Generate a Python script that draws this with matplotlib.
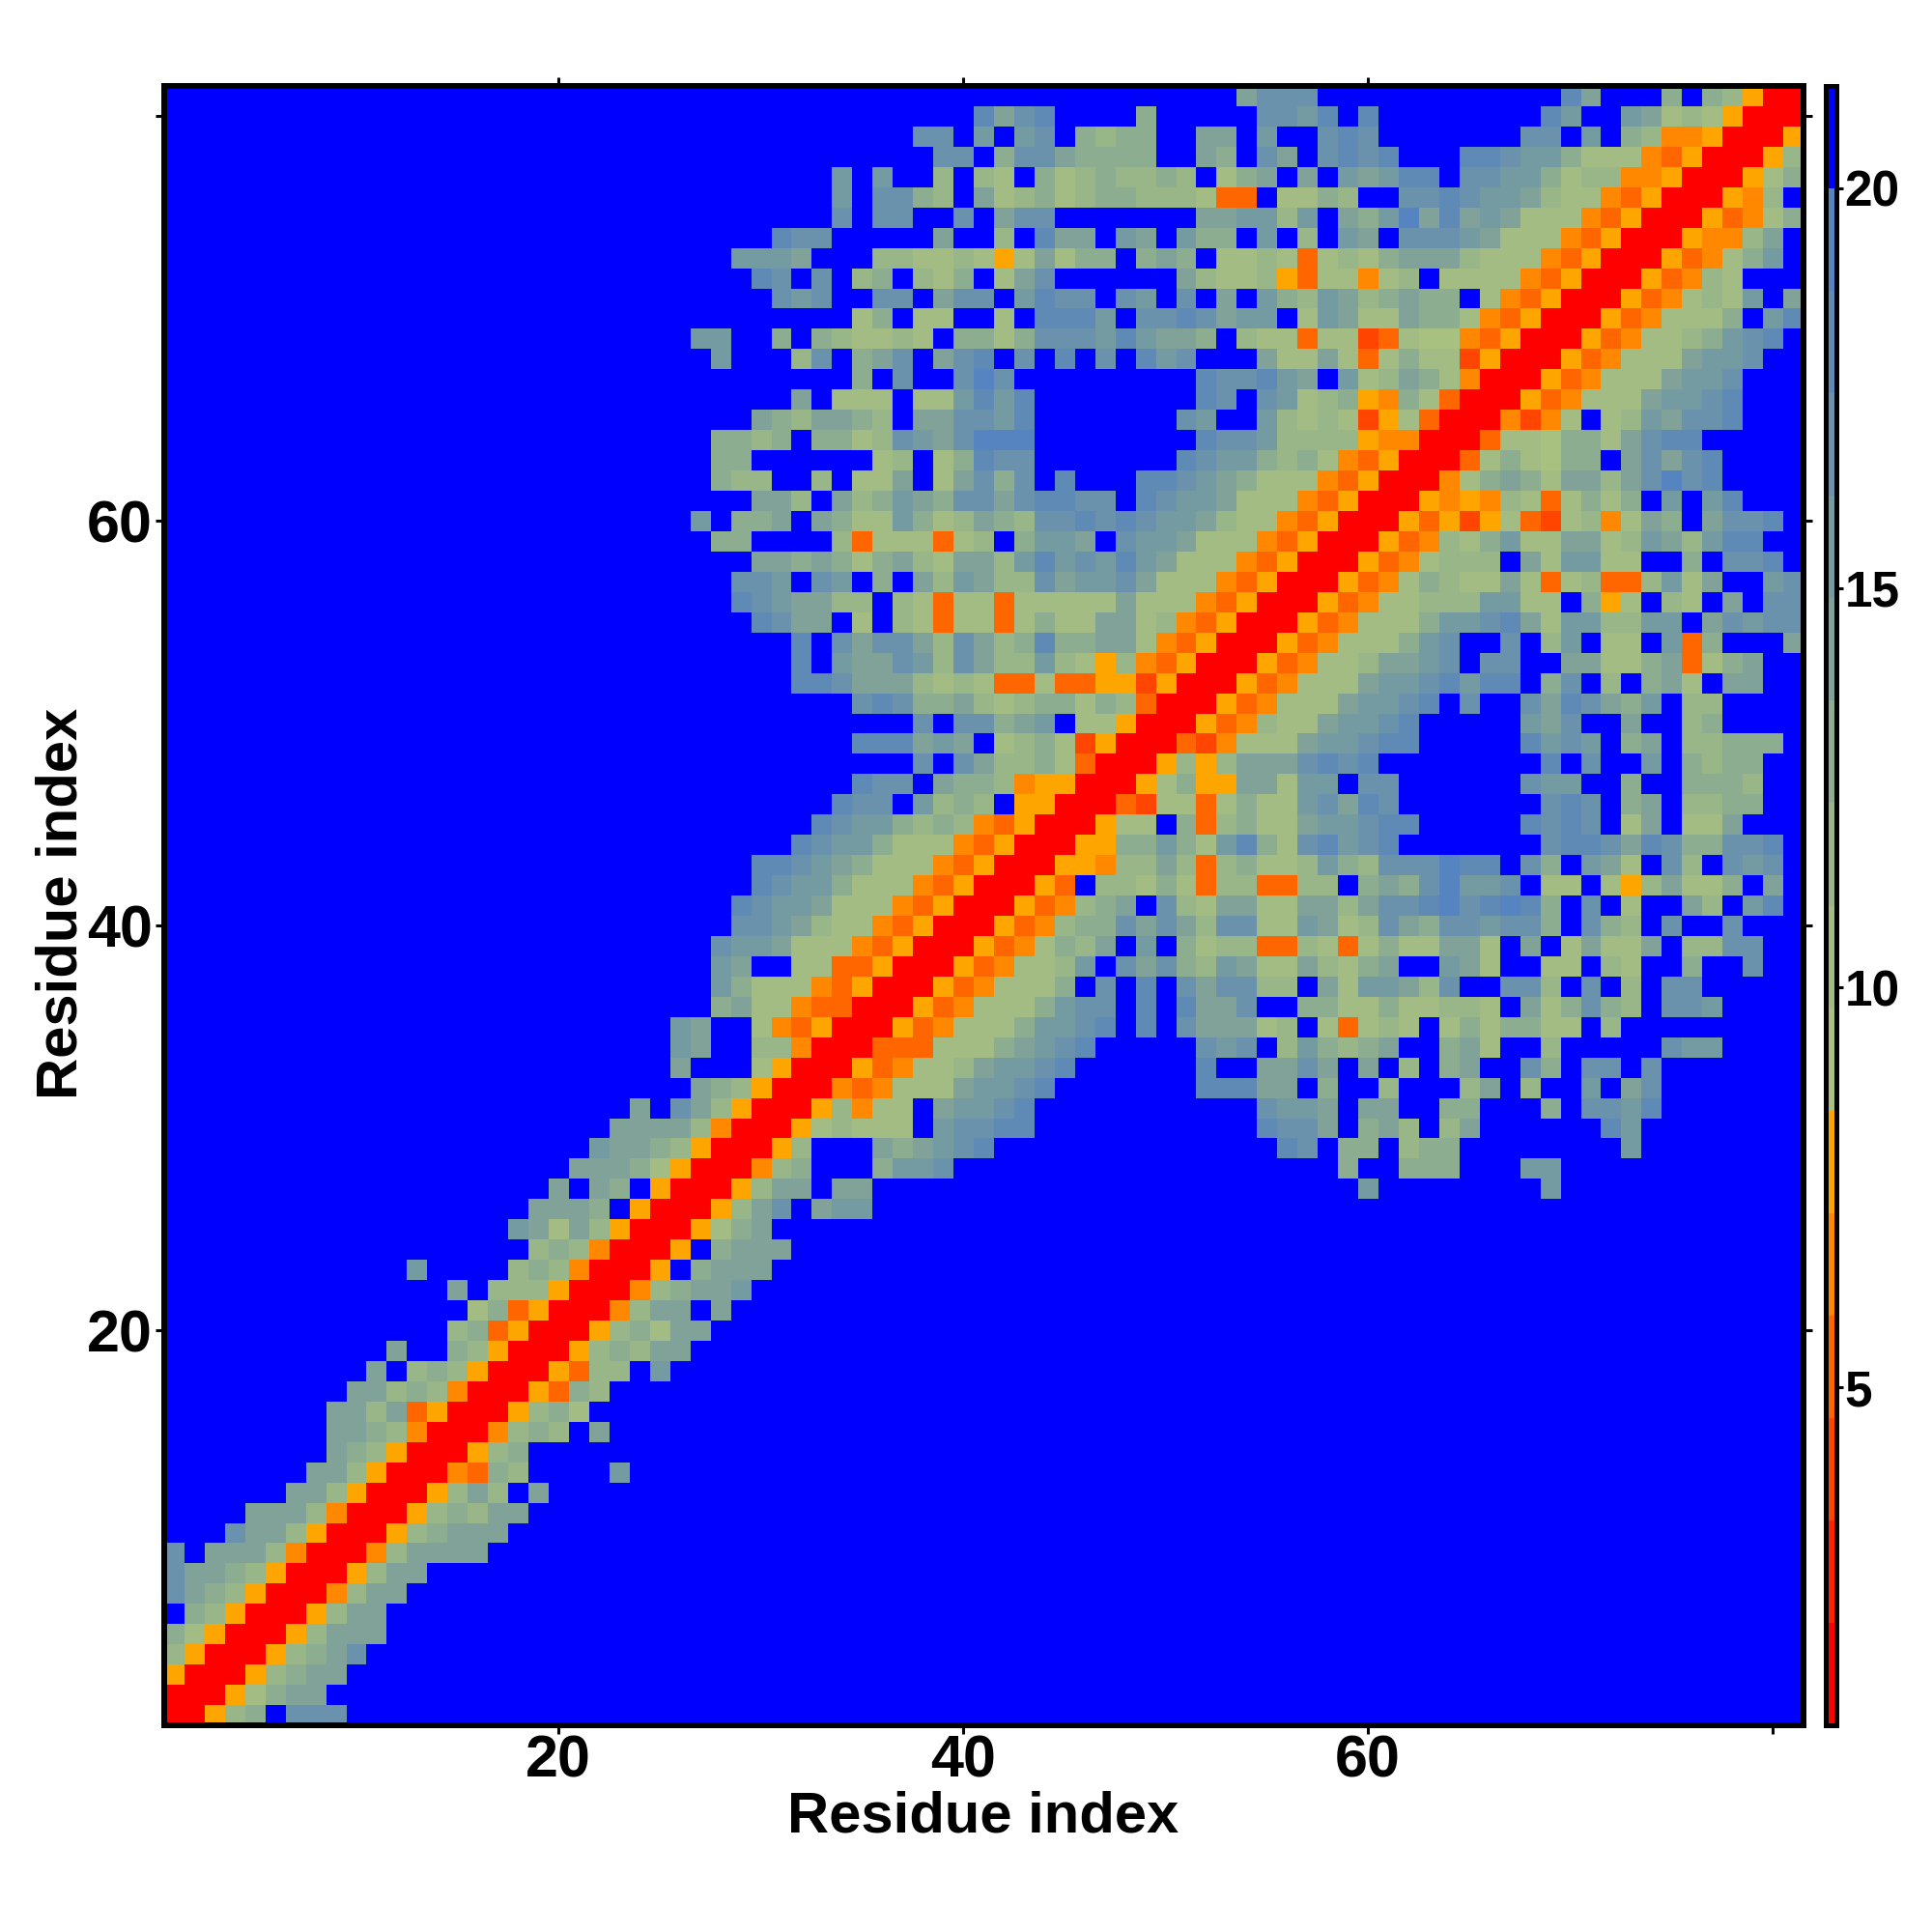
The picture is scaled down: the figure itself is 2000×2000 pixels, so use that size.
import numpy as np
import matplotlib
matplotlib.use("Agg")
import matplotlib.pyplot as plt
from matplotlib.colors import ListedColormap, Normalize

plt.rcParams['font.family'] = ['Liberation Sans', 'DejaVu Sans']
plt.rcParams['font.weight'] = 'bold'

N_RES = 81
CBAR_MIN, CBAR_MAX = 0.77, 21.28
PALETTE = ['#ff0000', '#ff2200', '#ff4500', '#ff6600', '#ff8800', '#ffa500',
           '#a8c080', '#a2bc83', '#99b689', '#8dad90', '#80a298', '#749aa2',
           '#6a92ad', '#608ab6', '#5584c0', '#0000ff']
CODES = 'r12345' + '6789abcde.'

# Symmetric distance map, upper triangle.
# row y: segments of (first x, level codes); everything else is the top level (blue).
tri_rows = {
 81: [(54,"accc"),(70,"da"),(75,"9"),(77,"985rr")],
 80: [(41,"dacd"),(49,"9"),(55,"ccbd"),(60,"d"),(69,"db"),(73,"ba7875rr")],
 79: [(38,"cc"),(41,"b.bc."),(46,"9899"),(52,"aa"),(55,"b"),(58,"cdc"),(68,"cc"),(71,"b"),(73,"98445rr")],
 78: [(39,"cc.9cca9"),(47,"999"),(52,"a9"),(55,"ca"),(58,"cdcd"),(65,"ddcbb9777435rr")],
 77: [(34,"b"),(36,"b"),(39,"8.87.97898898.79a.a.babdd.ccbb9788445rr")],
 76: [(34,"b.cc98.a7897899888733.7798..ccdcbba877435rr")],
 75: [(34,"c"),(36,"cc"),(40,"c"),(42,"acc"),(52,"aabb8b.a9beadaba777435rr")],
 74: [(31,"dcc"),(39,"a"),(42,"8"),(44,"daa.ba.b99.b.8.ba.cccba777435rr")],
 73: [(29,"bbba"),(36,"88778757a799.9a9.778737879aaa8777435rr")],
 72: [(30,"dc.c.89.879.7ac"),(51,"a87785377478.7777435rr")],
 71: [(31,"cbc"),(36,"cc.acc.bdcc.cb.c.a.b98ba89a99.7435rr")],
 70: [(35,"79"),(38,"77"),(42,"7"),(44,"dddb.ccdcabb.7ba77a997435rr")],
 69: [(27,"bb"),(31,"9.987787.9979cccbdbaa9.87737723766435rr")],
 68: [(28,"b"),(32,"8c"),(35,"9ac"),(39,"acd"),(43,"c"),(45,"d"),(47,"c"),(49,"dbc"),(55,"a77a73797725rr")],
 67: [(35,"9"),(37,"c"),(40,"cec"),(52,"dccdba.b78a974rr")],
 66: [(32,"a"),(34,"777"),(38,"77bdbd"),(52,"dc"),(55,"cb78954973rr")],
 65: [(30,"a98aa98"),(38,"aaccbd"),(51,"cb"),(55,"b87872573rr")],
 64: [(28,"9989"),(33,"9978cbaceee"),(52,"dccb8888544rr")],
 63: [(28,"99"),(36,"78"),(39,"79dcc"),(51,"dcbb9897435rr")],
 62: [(28,"988"),(33,"8"),(35,"77a"),(39,"7ac9c"),(45,"d"),(49,"ddcba9777435rr")],
 61: [(30,"aa8"),(34,"a89ba9ccacddcc.dcbba777435rr")],
 60: [(27,"b"),(29,"99a"),(33,"a977b978a98ccdcdcbba877435rr")],
 59: [(28,"99"),(34,"83777378.9bba.cbba777435rr")],
 58: [(30,"aa9a979a87aa8bdbcbdba777435rr")],
 57: [(29,"ccb"),(33,"cb"),(36,"9"),(38,"a8ba88cabbca777435rr")],
 56: [(29,"dcbaa88.87377377777a777435rr")],
 55: [(30,"dcaa.7.8737737977aa78435rr")],
 54: [(32,"d"),(34,"cacca8ca89d99aa7435rr")],
 53: [(32,"d"),(34,"baacb8ca88b8758435rr")],
 52: [(32,"ddcaaa8787337335525rr")],
 51: [(35,"cdc99a878997983rr")],
 50: [(38,"c.cc9ab.775rr")],
 49: [(35,"dddaba.789725rr")],
 48: [(38,"c.ca88973rr")],
 47: [(35,"dcc.a998455rr")],
 46: [(34,"dcc.b898.55rr")],
 45: [(33,"dcbb9898435rr")],
 44: [(32,"dcbb9777435rr")],
 43: [(30,"ddcba9777435rr")],
 42: [(30,"dcbb9777435rr")],
 41: [(29,"dcbba777435rr")],
 40: [(29,"ccba877435rr")],
 39: [(28,"cbba777435rr")],
 38: [(28,"ba"),(32,"77335rr")],
 37: [(28,"b9777435rr")],
 36: [(28,"9a77433rr")],
 35: [(26,"ba"),(30,"7435rr")],
 34: [(26,"ba"),(30,"884rr")],
 33: [(26,"a"),(30,"75rr")],
 32: [(27,"a985rr")],
 31: [(24,"a.ca85rr")],
 30: [(23,"aaaa84rr")],
 29: [(22,"baa985rr")],
 28: [(21,"aaa975rr")],
 27: [(20,"a.a9.5rr")],
 26: [(19,"aaa9.5rr")],
 25: [(18,"ba7a85rr")],
 24: [(19,"8984rr")],
 23: [(13,"b"),(18,"8984rr")],
 22: [(15,"a"),(17,"8885rr")],
 21: [(16,"7935rr")],
 20: [(15,"8935rr")],
 19: [(12,"a"),(15,"985rr")],
 18: [(11,"a.8985rr")],
 17: [(10,"aa8984rr")],
 16: [(9,"aa8a35rr")],
 15: [(9,"aa984rr")],
 14: [(9,"a985rr")],
 13: [(8,"aa85rr")],
 12: [(7,"aa85rr")],
 11: [(5,"aaa84rr")],
 10: [(4,"caa85rr")],
 9: [(1,"c.aaa84rr")],
 8: [(1,"caa985rr")],
 7: [(1,"ca985rr")],
 6: [(1,".985rr")],
 5: [(1,"975rr")],
 4: [(1,"85rr")],
 3: [(1,"5rr")],
 2: [(1,"rr")],
 1: [(1,"r")],
}
x_ticks = [20, 40, 60, 80]
x_tick_labels = ['20', '40', '60', '']
y_ticks = [20, 40, 60, 80]
y_tick_labels = ['20', '40', '60', '']
top_ticks = [20, 40, 60]
cbar_ticks = [5, 10, 15, 20]

step = (CBAR_MAX - CBAR_MIN) / len(PALETTE)
dist = np.full((N_RES, N_RES), CBAR_MIN + step * 15.5)
for y, segs in tri_rows.items():
    for x0, codes in segs:
        for k, c in enumerate(codes):
            x = x0 + k
            v = CBAR_MIN + step * (CODES.index(c) + 0.5)
            dist[y - 1, x - 1] = v
            dist[x - 1, y - 1] = v

W = H = 2000.0
fig = plt.figure(figsize=(10, 10), dpi=200, facecolor='white')
L, R, T, B = 169.5, 1866.5, 89.0, 1786.0
ax = fig.add_axes([L / W, 1 - B / H, (R - L) / W, (B - T) / H])
cmap = ListedColormap(PALETTE)
norm = Normalize(CBAR_MIN, CBAR_MAX)
im = ax.imshow(dist, origin='lower', cmap=cmap, norm=norm, interpolation='nearest',
               extent=(0.5, N_RES + 0.5, 0.5, N_RES + 0.5), aspect='auto')
LW = 6 * 72 / 200
for s in ax.spines.values():
    s.set_linewidth(LW)
ax.set_xticks(x_ticks, x_tick_labels)
ax.set_yticks(y_ticks, y_tick_labels)
ax.tick_params(axis='x', length=3.4, width=1.1, labelsize=22, pad=0.2)
ax.tick_params(axis='y', length=3.4, width=1.1, labelsize=22, pad=0.8, right=True)
for lab in ax.get_xticklabels() + ax.get_yticklabels():
    lab.set_fontweight('bold')
top = ax.secondary_xaxis('top')
top.set_xticks(top_ticks, ['', '', ''])
top.tick_params(length=3.4, width=1.1)
top.spines['top'].set_linewidth(LW)

fig.text(1018 / W, 1 - 1881 / H, 'Residue index', ha='center', va='center',
         fontsize=21.5, fontweight='bold')
fig.text(64 / W, 1 - 935 / H, 'Residue index', ha='center', va='center', rotation=90,
         fontsize=21.5, fontweight='bold')

cax = fig.add_axes([1889.5 / W, 1 - B / H, 11.5 / W, (B - T) / H])
cb = fig.colorbar(im, cax=cax, ticks=cbar_ticks)
cb.outline.set_linewidth(5 * 72 / 200)
cb.ax.tick_params(length=2.6, width=1.1, labelsize=18.5, pad=0.5)
for lab in cb.ax.get_yticklabels():
    lab.set_fontweight('bold')
fig.savefig('out.png', dpi=200, facecolor='white')
